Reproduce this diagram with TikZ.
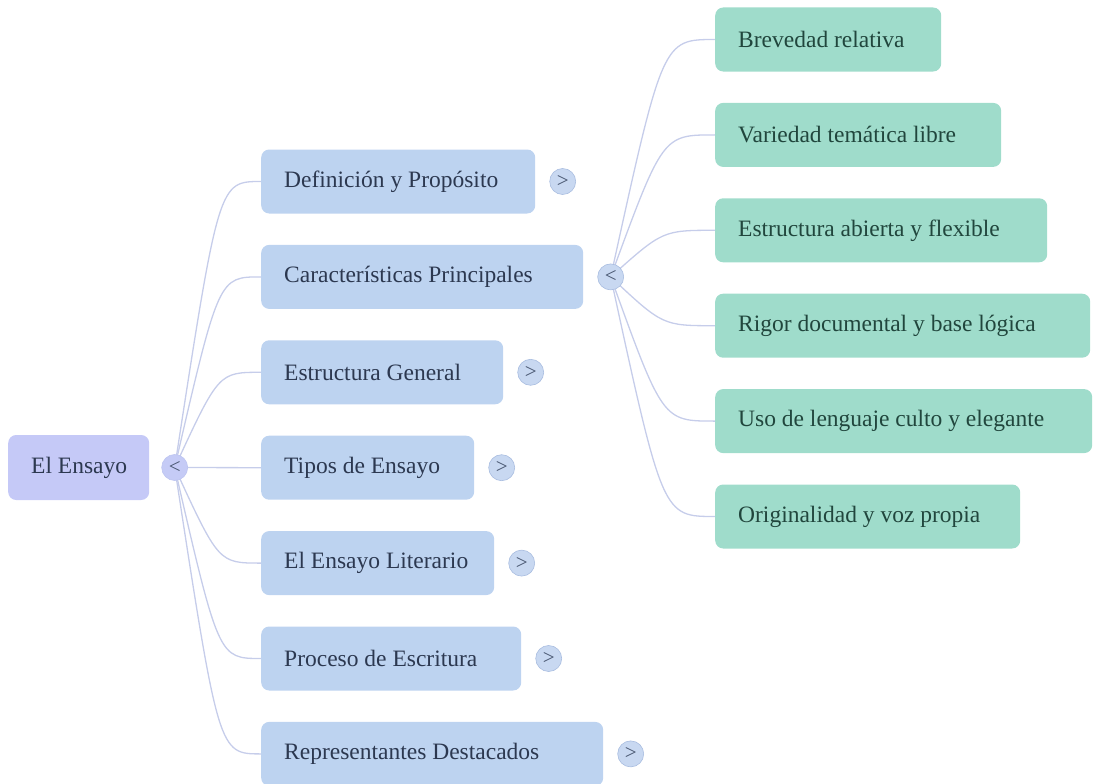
\documentclass[tikz,border=0pt]{standalone}
\usepackage{fontspec}
\setmainfont{Liberation Serif}
\usetikzlibrary{positioning, calc, backgrounds}
\definecolor{esRoot}{HTML}{C5C9F7}
\definecolor{esTopic}{HTML}{BDD3F0}
\definecolor{esLeaf}{HTML}{9FDCCB}
\definecolor{esInk}{HTML}{2C3850}
\definecolor{esLeafInk}{HTML}{21463D}
\definecolor{esLine}{HTML}{C6CDEA}
\definecolor{esTog}{HTML}{C8D8F1}
\definecolor{esTogLine}{HTML}{A9BDE0}
\definecolor{esTogInk}{HTML}{46546E}

% box text, left padded, in a box of fixed width
\newcommand{\pad}[2]{\makebox[#1bp][l]{\hspace{23bp}#2}}

\begin{document}
\begin{tikzpicture}[
  x=1bp, y=-1bp,
  node distance=31bp and 14bp,
  base/.style={rounded corners=8bp, inner xsep=0pt, inner ysep=0pt, minimum height=64bp, font=\fontsize{23.5bp}{28bp}\selectfont},
  root/.style={base, fill=esRoot, text=esInk, minimum height=65bp},
  topic/.style={base, fill=esTopic, text=esInk},
  detail/.style={base, fill=esLeaf, text=esLeafInk},
  toggle/.style={circle, minimum size=26bp, inner sep=0pt, fill=esTog, draw=esTogLine, line width=0.6bp, text=esTogInk, font=\fontsize{21bp}{21bp}\selectfont},
  branch/.style={draw=esLine, line width=1.3bp}
]
\useasboundingbox (0,0) rectangle (1093,784);

% root
\node[root, anchor=west] (ensayo) at (8,467.5) {\pad{141}{El Ensayo}};
\node[toggle, fill=esRoot!85!esTog, draw=esRoot!70!esTogLine, right=12bp of ensayo] (ensayoT) {<};

% first level
\node[topic, anchor=west] (defin) at (261,181.5) {\pad{274}{Definición y Propósito}};
\node[topic, below=of defin.south west, anchor=north west] (carac) {\pad{322}{Características Principales}};
\node[topic, below=of carac.south west, anchor=north west] (estru) {\pad{242}{Estructura General}};
\node[topic, below=of estru.south west, anchor=north west] (tipos) {\pad{213}{Tipos de Ensayo}};
\node[topic, below=of tipos.south west, anchor=north west] (liter) {\pad{233}{El Ensayo Literario}};
\node[topic, below=of liter.south west, anchor=north west] (proce) {\pad{260}{Proceso de Escritura}};
\node[topic, below=of proce.south west, anchor=north west] (repre) {\pad{342}{Representantes Destacados}};

\node[toggle, right=of defin] (definT) {>};
\node[toggle, right=of carac] (caracT) {<};
\node[toggle, right=of estru] (estruT) {>};
\node[toggle, right=of tipos] (tiposT) {>};
\node[toggle, right=of liter] (literT) {>};
\node[toggle, right=of proce] (proceT) {>};
\node[toggle, right=of repre] (repreT) {>};

% second level
\node[detail, anchor=west] (breve) at (715,39.5) {\pad{226}{Brevedad relativa}};
\node[detail, below=of breve.south west, anchor=north west] (varie) {\pad{286}{Variedad temática libre}};
\node[detail, below=of varie.south west, anchor=north west] (abier) {\pad{332}{Estructura abierta y flexible}};
\node[detail, below=of abier.south west, anchor=north west] (rigor) {\pad{375}{Rigor documental y base lógica}};
\node[detail, below=of rigor.south west, anchor=north west] (culto) {\pad{377}{Uso de lenguaje culto y elegante}};
\node[detail, below=of culto.south west, anchor=north west] (origi) {\pad{305}{Originalidad y voz propia}};

% branches
\begin{scope}[on background layer]
\foreach \n in {defin,carac,estru,tipos,liter,proce,repre}
  \draw[branch] (ensayoT.center) .. controls ($(ensayoT.center |- \n.west)+(44,0)$) .. (\n.west);
\foreach \n in {breve,varie,abier,rigor,culto,origi}
  \draw[branch] (caracT.center) .. controls ($(caracT.center |- \n.west)+(52,0)$) .. (\n.west);
\end{scope}
\end{tikzpicture}
\end{document}
